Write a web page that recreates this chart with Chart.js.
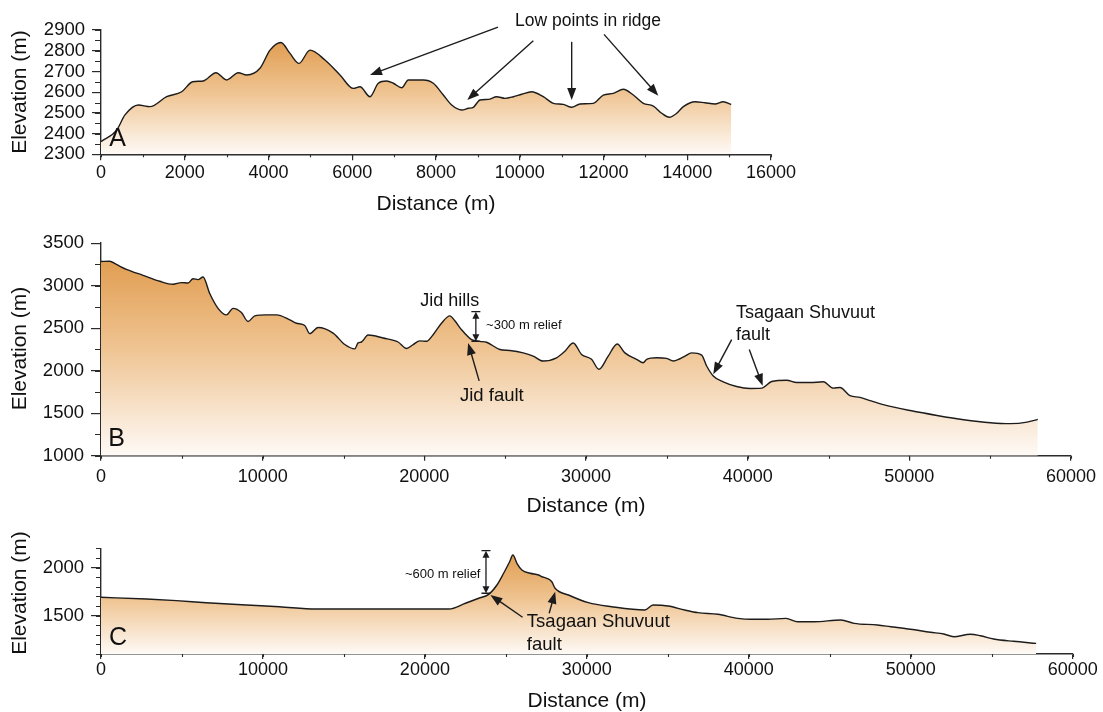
<!DOCTYPE html>
<html>
<head>
<meta charset="utf-8">
<script src="https://cdn.jsdelivr.net/npm/chart.js@4.4.1/dist/chart.umd.min.js"></script>
<style>
  html, body { margin: 0; padding: 0; background: #ffffff; }
  body { width: 1103px; height: 712px; position: relative; overflow: hidden; }
  canvas { position: absolute; left: 0; }
</style>
</head>
<body>
<canvas id="cA" width="1103" height="225" style="top:0px"></canvas>
<canvas id="cB" width="1103" height="305" style="top:225px"></canvas>
<canvas id="cC" width="1103" height="182" style="top:530px"></canvas>
<script>
// ---------------- DATA ----------------
// Panel A
const distA = [0, 375, 573, 892, 1170, 1568, 1926, 2189, 2443, 2746, 3001, 3279, 3479, 3797, 4036, 4299, 4513, 4728, 4991, 5349, 5707, 6025, 6185, 6424, 6622, 6822, 6981, 7181, 7339, 7697, 7936, 8175, 8374, 8614, 8773, 8892, 9050, 9249, 9449, 9648, 9847, 10046, 10285, 10563, 10802, 11041, 11240, 11439, 11757, 11996, 12235, 12474, 12713, 12951, 13190, 13390, 13572, 13748, 13907, 14185, 14424, 14663, 14861, 15050];
const elevA = [2361, 2417, 2490, 2538, 2530, 2578, 2602, 2650, 2654, 2694, 2659, 2694, 2683, 2715, 2803, 2840, 2787, 2739, 2803, 2755, 2683, 2618, 2626, 2578, 2643, 2654, 2643, 2621, 2659, 2659, 2643, 2586, 2538, 2514, 2522, 2527, 2562, 2565, 2578, 2570, 2578, 2590, 2602, 2578, 2546, 2541, 2527, 2543, 2546, 2586, 2594, 2614, 2586, 2546, 2533, 2498, 2479, 2498, 2530, 2554, 2549, 2543, 2554, 2541];
// Panel B
const distB = [0, 538, 953, 1572, 2599, 3632, 4456, 4975, 5384, 5693, 6003, 6312, 6726, 7240, 7760, 8168, 8688, 9097, 9511, 10235, 10854, 11677, 12092, 12605, 12915, 13428, 14356, 15080, 15700, 15904, 16110, 16522, 17450, 18378, 18898, 19307, 19722, 20136, 20545, 21061, 21578, 21888, 22302, 22921, 23434, 23848, 24672, 25291, 26114, 26733, 27352, 28177, 28694, 29208, 29726, 30344, 30798, 31374, 31931, 32407, 33130, 33540, 33750, 34370, 34987, 35396, 35810, 36120, 36535, 37154, 37463, 37871, 38490, 39316, 40142, 40866, 41485, 42413, 43032, 43855, 44678, 45297, 45710, 46328, 46947, 47566, 48391, 50062, 51713, 53364, 55015, 56253, 57286, 57946];
const elevB = [3284, 3287, 3249, 3191, 3121, 3051, 3016, 3035, 3031, 3081, 3070, 3101, 2907, 2733, 2656, 2733, 2683, 2578, 2644, 2656, 2656, 2598, 2558, 2531, 2435, 2508, 2442, 2307, 2256, 2326, 2337, 2419, 2384, 2337, 2260, 2307, 2350, 2345, 2423, 2558, 2644, 2586, 2481, 2365, 2345, 2334, 2249, 2237, 2209, 2171, 2113, 2151, 2229, 2326, 2191, 2133, 2016, 2171, 2314, 2209, 2133, 2093, 2133, 2151, 2144, 2113, 2140, 2171, 2209, 2183, 2055, 1938, 1869, 1814, 1791, 1795, 1872, 1888, 1860, 1860, 1869, 1795, 1802, 1706, 1686, 1648, 1601, 1531, 1473, 1423, 1388, 1377, 1395, 1427];
// Panel C
const distC = [0, 2812, 4658, 6504, 8966, 11015, 13274, 16350, 21477, 22503, 23323, 23938, 24450, 24862, 25231, 25434, 25682, 25990, 26502, 27015, 27220, 27527, 27835, 28040, 28862, 30092, 31527, 33578, 34092, 35015, 36040, 36862, 38092, 39323, 40143, 41169, 42297, 43015, 44041, 45682, 46503, 47938, 48759, 49990, 51221, 52041, 52656, 53682, 54297, 55118, 56349, 57743];
const elevC = [1690, 1672, 1655, 1634, 1610, 1592, 1568, 1568, 1568, 1628, 1680, 1721, 1818, 1940, 2060, 2130, 2044, 1974, 1940, 1922, 1904, 1888, 1852, 1784, 1714, 1634, 1592, 1558, 1610, 1600, 1558, 1530, 1513, 1471, 1461, 1461, 1471, 1436, 1436, 1454, 1419, 1402, 1384, 1357, 1326, 1308, 1280, 1305, 1290, 1256, 1232, 1211];

// Axis ranges and labelled tick values
const rangeAx = [0, 16000], ticksAx = [0, 2000, 4000, 6000, 8000, 10000, 12000, 14000, 16000], minorAx = 1000;
const rangeAy = [2300, 2900], ticksAy = [2300, 2400, 2500, 2600, 2700, 2800, 2900], minorAy = 50;
const rangeBx = [0, 60000], ticksBx = [0, 10000, 20000, 30000, 40000, 50000, 60000], minorBx = 5000;
const rangeBy = [1000, 3500], ticksBy = [1000, 1500, 2000, 2500, 3000, 3500], minorBy = 250;
const rangeCx = [0, 60000], ticksCx = [0, 10000, 20000, 30000, 40000, 50000, 60000], minorCx = 5000;
const rangeCy = [1100, 2200], ticksCy = [1500, 2000], minorCy = 100;

// Texts
const xTitle = 'Distance (m)';
const yTitle = 'Elevation (m)';

// ---------------- HELPERS ----------------
const FONT = '"Liberation Sans", Arial, Helvetica, sans-serif';
const INK = '#1c1c1c';
const AXIS = '#2b2b2b';

function gradientFill(elev) {
  return function (c) {
    const ch = c.chart, a = ch.chartArea;
    if (!a) return 'rgba(0,0,0,0)';
    const top = ch.scales.y.getPixelForValue(Math.max.apply(null, elev));
    const g = ch.ctx.createLinearGradient(0, top, 0, a.bottom);
    g.addColorStop(0, 'rgb(225,158,82)');
    g.addColorStop(0.45, 'rgb(239,196,146)');
    g.addColorStop(1, 'rgb(254,250,246)');
    return g;
  };
}

function arrowHead(ctx, x1, y1, x2, y2, len, w) {
  const ang = Math.atan2(y2 - y1, x2 - x1);
  ctx.beginPath();
  ctx.moveTo(x2, y2);
  ctx.lineTo(x2 - len * Math.cos(ang) + (w / 2) * Math.sin(ang), y2 - len * Math.sin(ang) - (w / 2) * Math.cos(ang));
  ctx.lineTo(x2 - len * Math.cos(ang) - (w / 2) * Math.sin(ang), y2 - len * Math.sin(ang) + (w / 2) * Math.cos(ang));
  ctx.closePath();
  ctx.fill();
}
function arrow(ctx, x1, y1, x2, y2) {
  const len = 12, w = 9;
  const ang = Math.atan2(y2 - y1, x2 - x1);
  ctx.beginPath();
  ctx.moveTo(x1, y1);
  ctx.lineTo(x2 - (len - 2) * Math.cos(ang), y2 - (len - 2) * Math.sin(ang));
  ctx.stroke();
  arrowHead(ctx, x1, y1, x2, y2, len, w);
}
function relief(ctx, x, yTop, yBot) {
  ctx.beginPath();
  ctx.moveTo(x - 4.5, yTop); ctx.lineTo(x + 4.5, yTop);
  ctx.moveTo(x - 4.5, yBot); ctx.lineTo(x + 4.5, yBot);
  ctx.moveTo(x, yTop + 5); ctx.lineTo(x, yBot - 5);
  ctx.stroke();
  arrowHead(ctx, x, yBot, x, yTop, 7, 7);
  arrowHead(ctx, x, yTop, x, yBot, 7, 7);
}

// notes in data coords; titles in canvas positions
function decoPlugin(id, notes, titles, minor) {
  return {
    id: id,
    afterDraw(chart) {
      const ctx = chart.ctx, xs = chart.scales.x, ys = chart.scales.y;
      const X = v => xs.getPixelForValue(v), Y = v => ys.getPixelForValue(v);
      ctx.save();
      // minor ticks
      ctx.strokeStyle = AXIS; ctx.lineWidth = 1.1;
      ctx.beginPath();
      for (let v = xs.min; v <= xs.max + 1e-6; v += minor.x[0]) {
        const p = Math.round(X(v)) + 0.5;
        ctx.moveTo(p, xs.top); ctx.lineTo(p, xs.top + minor.x[1]);
      }
      for (let v = ys.min; v <= ys.max + 1e-6; v += minor.y[0]) {
        const p = Math.round(Y(v)) + 0.5;
        ctx.moveTo(ys.right - minor.y[1], p); ctx.lineTo(ys.right, p);
      }
      ctx.stroke();
      // axis titles
      ctx.fillStyle = '#111';
      ctx.font = '21px ' + FONT;
      ctx.textAlign = 'center'; ctx.textBaseline = 'middle';
      ctx.fillText(xTitle, titles.x[0], titles.x[1]);
      ctx.save();
      ctx.translate(titles.y[0], titles.y[1]);
      ctx.rotate(-Math.PI / 2);
      ctx.fillText(yTitle, 0, 0);
      ctx.restore();
      // annotations
      ctx.strokeStyle = INK; ctx.fillStyle = INK; ctx.lineWidth = 1.4;
      (notes.arrows || []).forEach(a => arrow(ctx, X(a[0]), Y(a[1]), X(a[2]), Y(a[3])));
      ctx.lineWidth = 1.3;
      (notes.reliefs || []).forEach(r => relief(ctx, X(r[0]), Y(r[1]), Y(r[2])));
      ctx.fillStyle = '#111';
      (notes.texts || []).forEach(t => {
        ctx.font = t.size + 'px ' + FONT;
        ctx.textAlign = t.align || 'center';
        ctx.textBaseline = 'middle';
        ctx.fillText(t.t, X(t.x), Y(t.y));
      });
      ctx.restore();
    }
  };
}

function makeChart(id, dist, elev, cfg) {
  const canvas = document.getElementById(id);
  const H = canvas.height;
  const pts = dist.map((d, i) => ({ x: d, y: elev[i] }));
  return new Chart(canvas, {
    type: 'line',
    data: {
      datasets: [{
        data: pts,
        borderColor: INK,
        borderWidth: 1.4,
        pointRadius: 0,
        pointHoverRadius: 0,
        cubicInterpolationMode: 'monotone',
        fill: 'start',
        backgroundColor: gradientFill(elev)
      }]
    },
    options: {
      responsive: false,
      animation: false,
      devicePixelRatio: 1,
      events: [],
      layout: { padding: { left: 0, top: cfg.top, right: 1103 - cfg.right, bottom: 0 } },
      plugins: { legend: { display: false }, tooltip: { enabled: false } },
      scales: {
        x: {
          type: 'linear',
          min: cfg.xr[0], max: cfg.xr[1],
          border: { display: true, color: AXIS, width: 1.4 },
          grid: { display: true, drawOnChartArea: false, drawTicks: true, tickLength: cfg.xTick, color: AXIS, lineWidth: 1.2 },
          ticks: { autoSkip: false, maxRotation: 0, padding: cfg.xPad, color: '#111', font: { family: FONT, size: 18 }, callback: v => String(v) },
          afterBuildTicks: s => { s.ticks = cfg.xt.map(v => ({ value: v })); },
          afterFit: s => { s.height = H - cfg.bottom; }
        },
        y: {
          type: 'linear',
          min: cfg.yr[0], max: cfg.yr[1],
          border: { display: true, color: AXIS, width: 1.4 },
          grid: { display: true, drawOnChartArea: false, drawTicks: true, tickLength: cfg.yTick, color: AXIS, lineWidth: 1.2 },
          ticks: { autoSkip: false, padding: cfg.yPad, color: '#111', font: { family: FONT, size: 18.5 }, callback: v => String(v) },
          afterBuildTicks: s => { s.ticks = cfg.yt.map(v => ({ value: v })); },
          afterFit: s => { s.width = 101; }
        }
      }
    },
    plugins: [decoPlugin('deco' + id, cfg.notes, cfg.titles, cfg.minor)]
  });
}

// ---------------- PANELS ----------------
makeChart('cA', distA, elevA, {
  top: 30, bottom: 154.3, right: 771,
  xr: rangeAx, yr: rangeAy, xt: ticksAx, yt: ticksAy,
  xTick: 6, yTick: 9, xPad: 2, yPad: 7,
  minor: { x: [minorAx, 3], y: [minorAy, 6] },
  titles: { y: [20, 92], x: [436, 204] },
  notes: {
    texts: [
      { x: 11630, y: 2943, t: 'Low points in ridge', size: 17.5 },
      { x: 394, y: 2374, t: 'A', size: 25 }
    ],
    arrows: [
      [9481, 2914, 6424, 2683],
      [10324, 2848, 8747, 2562],
      [11240, 2843, 11240, 2562],
      [12012, 2879, 13309, 2583]
    ]
  }
});

makeChart('cB', distB, elevB, {
  top: 15.7, bottom: 455.7 - 225, right: 1071,
  xr: rangeBx, yr: rangeBy, xt: ticksBx, yt: ticksBy,
  xTick: 5, yTick: 10, xPad: 6, yPad: 7,
  minor: { x: [minorBx, 3], y: [minorBy, 6] },
  titles: { y: [20, 123.5], x: [586, 281] },
  notes: {
    texts: [
      { x: 21578, y: 2822, t: 'Jid hills', size: 18 },
      { x: 23818, y: 2531, t: '~300 m relief', size: 13, align: 'left' },
      { x: 24177, y: 1706, t: 'Jid fault', size: 18.5 },
      { x: 39276, y: 2683, t: 'Tsagaan Shuvuut', size: 18, align: 'left' },
      { x: 39276, y: 2415, t: 'fault', size: 18, align: 'left' },
      { x: 971, y: 1200, t: 'B', size: 25 }
    ],
    arrows: [
      [23391, 1880, 22710, 2326],
      [39010, 2365, 37871, 1958],
      [40099, 2249, 40928, 1822]
    ],
    reliefs: [[23187, 2694, 2345]]
  }
});

makeChart('cC', distC, elevC, {
  top: 18.3, bottom: 654 - 530, right: 1072.7,
  xr: rangeCx, yr: rangeCy, xt: ticksCx, yt: ticksCy,
  xTick: 5, yTick: 10, xPad: 0, yPad: 7,
  minor: { x: [minorCx, 3], y: [minorCy, 5] },
  titles: { y: [20, 63], x: [587, 171] },
  notes: {
    texts: [
      { x: 18769, y: 1932, t: '~600 m relief', size: 13, align: 'left' },
      { x: 26295, y: 1436, t: 'Tsagaan Shuvuut', size: 18.5, align: 'left' },
      { x: 26295, y: 1194, t: 'fault', size: 18.5, align: 'left' },
      { x: 1046, y: 1266, t: 'C', size: 25 }
    ],
    arrows: [
      [26031, 1482, 24043, 1714],
      [27674, 1524, 28043, 1748]
    ],
    reliefs: [[23772, 2175, 1732]]
  }
});
</script>
</body>
</html>
